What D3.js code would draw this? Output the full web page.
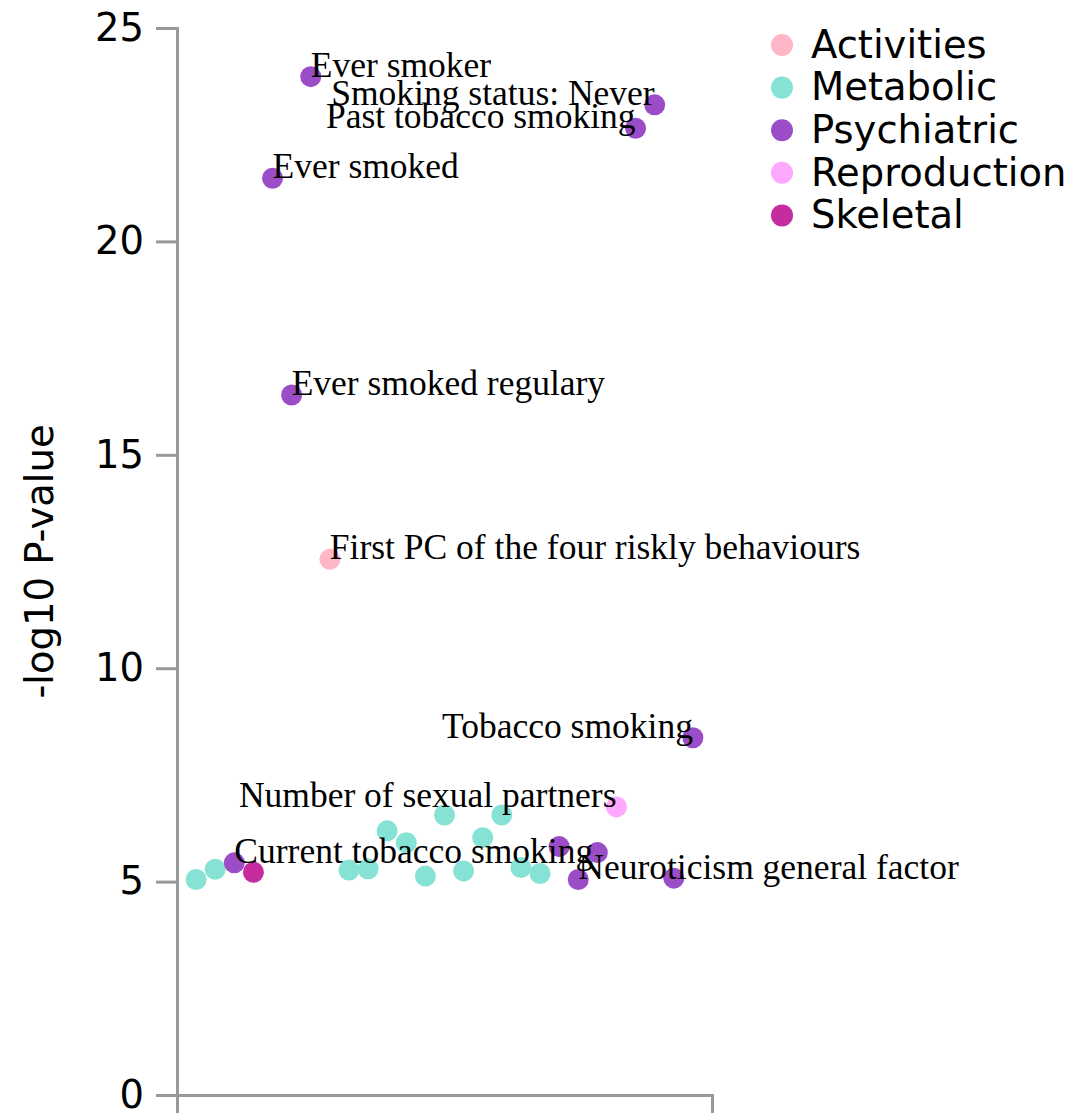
<!DOCTYPE html>
<html>
<head>
<meta charset="utf-8">
<script src="https://cdn.jsdelivr.net/npm/d3@7"></script>
<style>
  body { margin: 0; background: #fff; }
  .axis path, .axis line { stroke: #999; stroke-width: 3; }
  .axis text { font-family: "DejaVu Sans", sans-serif; font-size: 38.5px; fill: #000; }
  .traitLabel { font-family: "Liberation Serif", serif; font-size: 35.5px; fill: #000; }
  .legendText { font-family: "DejaVu Sans", sans-serif; font-size: 38.5px; fill: #000; }
</style>
</head>
<body>
<div id="chart"></div>
<script>
// categories and their order in the legend
var categories = ["Activities", "Metabolic", "Psychiatric", "Reproduction", "Skeletal"];

// one entry per trait, in the order they sit along the x axis
var traitGroup = ["Metabolic", "Metabolic", "Psychiatric", "Skeletal", "Psychiatric",
  "Psychiatric", "Psychiatric", "Activities", "Metabolic", "Metabolic",
  "Metabolic", "Metabolic", "Metabolic", "Metabolic", "Metabolic",
  "Metabolic", "Metabolic", "Metabolic", "Metabolic", "Psychiatric",
  "Psychiatric", "Psychiatric", "Reproduction", "Psychiatric", "Psychiatric",
  "Psychiatric", "Psychiatric"];
var traitValue = [5.05, 5.29, 5.44, 5.22, 21.48,
  16.40, 23.86, 12.55, 5.27, 5.30,
  6.19, 5.91, 5.13, 6.56, 5.25,
  6.03, 6.56, 5.33, 5.19, 5.82,
  5.05, 5.68, 6.75, 22.65, 23.20,
  5.08, 8.37];
var traitLabel = ["", "", "Current tobacco smoking", "", "Ever smoked",
  "Ever smoked regulary", "Ever smoker", "First PC of the four riskly behaviours", "", "",
  "", "", "", "", "",
  "", "", "", "", "",
  "Neuroticism general factor", "", "Number of sexual partners", "Past tobacco smoking", "Smoking status: Never",
  "", "Tobacco smoking"];
var yTicks = [0, 5, 10, 15, 20, 25];

var svgWidth = 1079;
var svgHeight = 1113;
var plotLeft = 177, plotRight = 712, plotTop = 28, plotBottom = 1095;
var circRadius = 10.5;

var svg = d3.select("#chart")
  .append("svg")
  .attr("width", svgWidth)
  .attr("height", svgHeight);

var data = traitValue.map(function(v, i) {
  return { id: "t" + i, group: traitGroup[i], value: v, label: traitLabel[i] };
});

var xScale = d3.scalePoint()
  .domain(data.map(function(d) { return d.id; }))
  .range([plotLeft, plotRight])
  .padding(1);

var yScale = d3.scaleLinear()
  .domain([0, 25])
  .range([plotBottom, plotTop]);

var color = d3.scaleOrdinal()
  .domain(categories)
  .range(["#ffb6c6", "#86e2d4", "#9b4cc7", "#ffa8ff", "#c52c9f"]);

// axes
svg.append("g")
  .attr("class", "axis")
  .attr("transform", "translate(0," + plotBottom + ")")
  .call(d3.axisBottom(xScale).tickValues([]).tickSizeOuter(21));

svg.append("g")
  .attr("class", "axis")
  .attr("transform", "translate(" + plotLeft + ",0)")
  .call(d3.axisLeft(yScale).tickValues(yTicks).tickSize(21).tickPadding(12));

svg.selectAll(".axis .domain").attr("fill", "none");

svg.append("text")
  .attr("class", "legendText")
  .attr("text-anchor", "middle")
  .attr("transform", "translate(53," + ((plotTop + plotBottom) / 2) + ")rotate(-90)")
  .text("-log10 P-value");

// points
svg.selectAll("circle.dot")
  .data(data)
  .enter()
  .append("circle")
  .attr("class", "dot")
  .attr("cx", function(d) { return xScale(d.id); })
  .attr("cy", function(d) { return yScale(d.value); })
  .attr("r", circRadius)
  .attr("fill", function(d) { return color(d.group); });

// labels: right-hand points get their text to the left
var flipAt = plotLeft + (plotRight - plotLeft) * 0.8;
svg.selectAll("text.traitLabel")
  .data(data.filter(function(d) { return d.label !== ""; }))
  .enter()
  .append("text")
  .attr("class", "traitLabel")
  .attr("x", function(d) { return xScale(d.id); })
  .attr("y", function(d) { return yScale(d.value); })
  .attr("text-anchor", function(d) { return xScale(d.id) > flipAt ? "end" : "start"; })
  .text(function(d) { return d.label; });

// legend
var legend = svg.append("g").attr("transform", "translate(782,45)");
var rows = legend.selectAll("g")
  .data(categories)
  .enter()
  .append("g")
  .attr("transform", function(d, i) { return "translate(0," + i * 42.6 + ")"; });
rows.append("circle")
  .attr("r", 11)
  .attr("fill", function(d) { return color(d); });
rows.append("text")
  .attr("class", "legendText")
  .attr("x", 29)
  .attr("dy", "0.33em")
  .text(function(d) { return d; });
</script>
</body>
</html>
